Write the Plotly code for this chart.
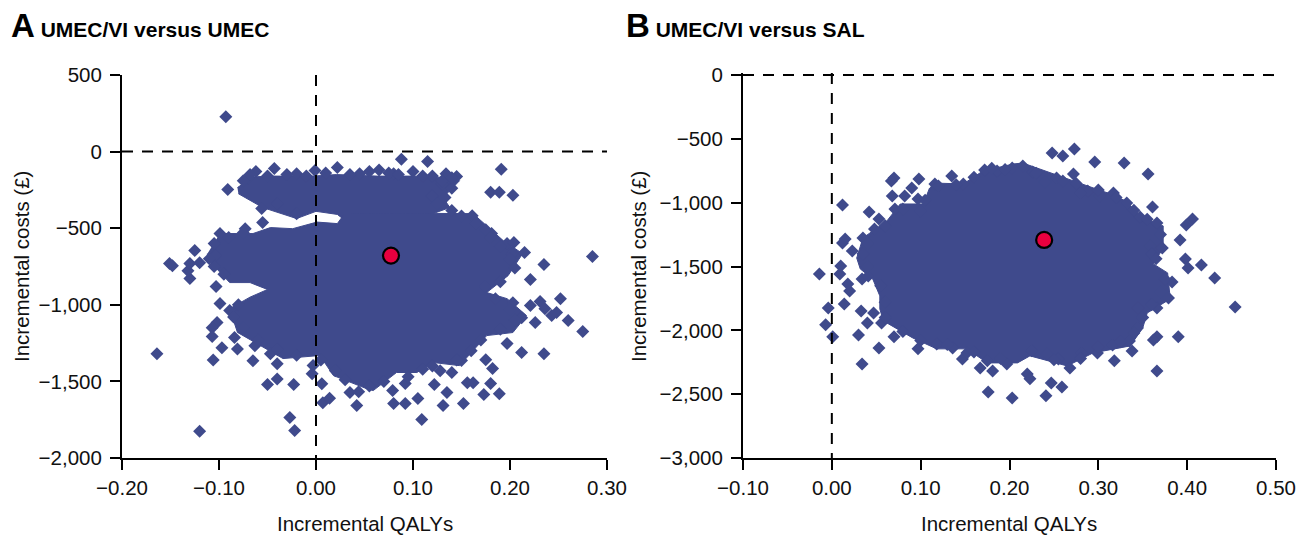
import plotly.graph_objects as go

# the page keeps its default 8px body margin, so the figure is 8px smaller and layout pixels are offset
OFF = 8
W, H = 1307 - OFF, 536 - OFF
NAVY = "#3f4a8c"
RED = "#e8003f"
FONT = "Liberation Sans, Arial, sans-serif"

def fx(p):
    return (p - OFF) / W

def fy(p):
    return 1 - (p - OFF) / H

# Panel A: dense cloud outlines
a_upper_x = [-.081,-.065,-.044,-.003,.021,.063,.099,.135,.148,.131,.138,.114,.03,.022,0,-.02,-.055,-.08]
a_upper_y = [-235,-165,-160,-160,-150,-160,-160,-170,-190,-300,-365,-420,-450,-410,-390,-437,-365,-275]
a_main_x = [-.099,-.065,-.047,-.024,.001,.022,.03,.162,.193,.213,.198,.176,.197,.217,.203,.176,.148,.121,.104,.083,.059,.052,.018,.004,-.034,-.058,-.081,-.089,-.068,-.05,-.068,-.089,-.112,-.112]
a_main_y = [-535,-535,-496,-503,-460,-470,-400,-405,-581,-666,-810,-920,-960,-1070,-1181,-1201,-1397,-1377,-1442,-1442,-1560,-1547,-1462,-1331,-1351,-1266,-1180,-1025,-950,-900,-855,-855,-700,-666]

# Panel A: individual simulations outside the dense cloud
a_x = [-.093,-.148,-.151,-.164,-.12,-.027,-.022,.285,.275,.236,.235,.235,.088,.115,.191,.18,.189,.203,
       -.106,-.097,-.081,-.063,-.065,-.047,-.04,-.05,-.04,-.023,.006,-.004,-.003,.007,.014,.035,.044,.042,
       -.103,-.099,-.089,-.102,-.107,-.107,-.084,-.13,-.132,
       .221,.231,.252,.248,.26,.243,.197,.212,.175,.182,.156,.162,.18,.173,.189,.152,.135,.131,.122,.109,.105,.092,.08,.079,.092,.128,.14,.15,.221,.226,.203,.212,
       .161,.181,.197,.204,.215,.202,.145,.134,.133,.14,
       -.062,-.043,-.02,-.001,.022,.045,-.091,-.073,-.055,-.099,-.125,-.12,-.13,-.104,-.056,-.04,-.02,
       .12,.1,.08,.065,.13,.14,.12,.125,.15,.165,.175,.18,.19,.2,.205,.19,.175,.185,.2,.205,.19,.17,.16,.145,.12,.11,.095,.07,.055,.03,.02,.005,-.02,-.04,-.06,-.075,-.085,-.08,-.095,-.105,-.11,-.105,-.09,-.075,
       -.07,-.05,-.03,-.01,.01,.035,.055,.075,.085,.11,.13,.14,-.075,-.068]
a_y = [228,-745,-730,-1320,-1825,-1735,-1820,-685,-1175,-1025,-737,-1320,-50,-65,-115,-265,-265,-285,
       -1360,-1280,-1288,-1267,-1365,-1320,-1385,-1520,-1484,-1520,-1515,-1450,-1397,-1640,-1610,-1573,-1567,-1658,
       -880,-992,-1038,-1116,-1149,-1207,-1214,-829,-777,
       -835,-979,-960,-1051,-1103,-1070,-1253,-1312,-1358,-1416,-1508,-1508,-1514,-1586,-1580,-1645,-1573,-1658,-1520,-1749,-1612,-1645,-1645,-1560,-1514,-1430,-1442,-1364,-1005,-1116,-986,-1084,
       -418,-535,-600,-594,-659,-666,-163,-144,-300,-385,
       -130,-111,-144,-124,-104,-144,-248,-503,-463,-535,-646,-725,-731,-679,-372,-340,-405,
       -160,-130,-145,-120,-210,-240,-290,-340,-420,-470,-510,-560,-620,-700,-760,-850,-880,-960,-1030,-1100,-1160,-1230,-1300,-1360,-1400,-1420,-1470,-1500,-1530,-1490,-1430,-1360,-1330,-1290,-1230,-1150,-1080,-1000,-800,-750,-700,-600,-560,-530,
       -170,-160,-150,-160,-140,-150,-130,-140,-150,-160,-190,-170,-190,-150]
a_mean_x = [0.0773]
a_mean_y = [-679]

# Panel B: dense cloud outline
b_core_x = [.114,.148,.170,.204,.215,.249,.288,.314,.331,.350,.373,.373,.362,.378,.381,.355,.350,.336,.294,.265,.223,.209,.175,.152,.118,.091,.058,.054,.054,.046,.032,.028,.035,.062,.077,.103,.110]
b_core_y = [-846,-853,-752,-697,-689,-775,-869,-932,-987,-1120,-1182,-1355,-1480,-1550,-1754,-1864,-1981,-2122,-2177,-2279,-2200,-2255,-2255,-2145,-2145,-2059,-1926,-1832,-1730,-1597,-1519,-1433,-1276,-1143,-1010,-1010,-885]

# Panel B: individual simulations outside the dense cloud
b_x = [.454,.431,.416,.406,.399,.398,.401,.390,.366,.296,.273,.26,.248,.272,.329,.356,.361,.392,
       .317,.332,.347,.366,.372,.358,.36,
       .366,.362,.318,.338,.335,.299,.281,.316,.344,.268,.255,.242,.247,.259,.241,.22,.223,.203,.383,.379,.366,.345,
       -.014,.009,-.004,.014,-.007,.001,.03,.053,.034,.07,.033,.047,.04,.056,.02,.018,.034,.041,.097,.118,.147,.152,.167,.181,.175,.197,.176,.136,
       .012,.07,.067,.098,.135,.116,.148,.068,.09,.082,.097,.071,.042,.053,.048,.015,.012,.023,.035,.01,.099,.172,.186,.203,
       .215,.226,.24,.253,.288,.28,.302,
       .12,.14,.16,.18,.195,.23,.26,.275,.3,.32,.34,.355,.37,.365,.375,.37,.36,.35,.34,.325,.3,.28,.25,.225,.19,.16,.13,.1,.08,.06,.06,.055,.04,.035,.04,.06,.08,.105]
b_y = [-1817,-1590,-1488,-1128,-1175,-1441,-1511,-2051,-2318,-681,-579,-634,-611,-775,-689,-775,-1034,-1292,
       -924,-1002,-1112,-1159,-1355,-1339,-1402,
       -2051,-2075,-2239,-2161,-2083,-2177,-2177,-2114,-1981,-2294,-2224,-2185,-2412,-2443,-2513,-2341,-2380,-2529,-1621,-1746,-1824,-1824,
       -1558,-1558,-1824,-1793,-1957,-2051,-2036,-2138,-2263,-2051,-1848,-1864,-1942,-1942,-1691,-1636,-1597,-1574,-2145,-2106,-2224,-2177,-2294,-2318,-2239,-2263,-2482,-2138,
       -1018,-806,-830,-814,-791,-853,-853,-947,-885,-947,-971,-1049,-1073,-1128,-1206,-1284,-1315,-1378,-1276,-1496,-1065,-744,-752,-728,
       -712,-760,-838,-806,-908,-924,-947,
       -870,-860,-800,-730,-740,-770,-830,-850,-900,-960,-1060,-1130,-1250,-1440,-1600,-1700,-1800,-1900,-2020,-2090,-2130,-2220,-2230,-2160,-2220,-2170,-2110,-2080,-2010,-1900,-1780,-1650,-1500,-1400,-1320,-1180,-1050,-980]
b_mean_x = [0.239]
b_mean_y = [-1292]

a_xticks = [-0.2,-0.1,0,0.1,0.2,0.3]
a_xlabels = ["−0.20","−0.10","0.00","0.10","0.20","0.30"]
a_yticks = [500,0,-500,-1000,-1500,-2000]
a_ylabels = ["500","0","−500","−1,000","−1,500","−2,000"]
b_xticks = [-0.1,0,0.1,0.2,0.3,0.4,0.5]
b_xlabels = ["−0.10","0.00","0.10","0.20","0.30","0.40","0.50"]
b_yticks = [0,-500,-1000,-1500,-2000,-2500,-3000]
b_ylabels = ["0","−500","−1,000","−1,500","−2,000","−2,500","−3,000"]
a_xrange = [-0.2, 0.3]
a_yrange = [-2000, 500]
b_xrange = [-0.1, 0.5]
b_yrange = [-3000, 16]

fig = go.Figure()

def panel(xa, ya, polys, px_, py_, mx, my, xr, yr):
    for (x, y) in polys:
        fig.add_trace(go.Scatter(x=x, y=y, mode="lines", fill="toself", fillcolor=NAVY,
                                 line=dict(color=NAVY, width=1), xaxis=xa, yaxis=ya,
                                 hoverinfo="skip", showlegend=False))
    fig.add_trace(go.Scatter(x=px_, y=py_, mode="markers", cliponaxis=False,
                             marker=dict(symbol="diamond", size=10, color=NAVY, line=dict(width=0)),
                             xaxis=xa, yaxis=ya, showlegend=False))
    dash = dict(color="black", width=2, dash="11px,9px")
    fig.add_trace(go.Scatter(x=xr, y=[0, 0], mode="lines", line=dash, cliponaxis=False,
                             xaxis=xa, yaxis=ya, showlegend=False, hoverinfo="skip"))
    fig.add_trace(go.Scatter(x=[0, 0], y=yr[::-1], mode="lines", line=dash, cliponaxis=False,
                             xaxis=xa, yaxis=ya, showlegend=False, hoverinfo="skip"))
    fig.add_trace(go.Scatter(x=mx, y=my, mode="markers", cliponaxis=False,
                             marker=dict(symbol="circle", size=16, color=RED, line=dict(color="black", width=2.2)),
                             xaxis=xa, yaxis=ya, showlegend=False))

panel("x", "y", [(a_upper_x, a_upper_y), (a_main_x, a_main_y)], a_x, a_y, a_mean_x, a_mean_y, a_xrange, a_yrange)
panel("x2", "y2", [(b_core_x, b_core_y)], b_x, b_y, b_mean_x, b_mean_y, b_xrange, b_yrange)

def xaxis(dom, rng, tv, tt, anchor):
    return dict(domain=dom, range=rng, tickvals=tv, ticktext=tt, anchor=anchor, showgrid=False, zeroline=False,
                showline=True, linecolor="black", linewidth=2, ticks="outside", ticklen=10, tickwidth=2,
                tickcolor="black", tickangle=0, automargin=False, ticklabelstandoff=0,
                tickfont=dict(family=FONT, size=20.5, color="#111"))

def yaxis(dom, rng, tv, tt, anchor):
    return dict(domain=dom, range=rng, tickvals=tv, ticktext=tt, anchor=anchor, showgrid=False,
                zeroline=False, showline=True, linecolor="black", linewidth=2, ticks="outside", ticklen=10,
                tickwidth=2, tickcolor="black", automargin=False, ticklabelstandoff=4,
                tickfont=dict(family=FONT, size=20.5, color="#111"))

titles = [(9, "A", "UMEC/VI versus UMEC"), (624, "B", "UMEC/VI versus SAL")]
annotations = []
for px0, letter, text in titles:
    annotations.append(dict(x=fx(px0), y=fy(25), xref="paper", yref="paper", xanchor="left", yanchor="middle",
                            showarrow=False,
                            text=f"<b><span style='font-size:33px'>{letter}</span> {text}</b>",
                            font=dict(family=FONT, size=21, color="black")))
for cx in (365, 1009):
    annotations.append(dict(x=fx(cx), y=fy(523), xref="paper", yref="paper", xanchor="center", yanchor="middle",
                            showarrow=False, text="Incremental QALYs", font=dict(family=FONT, size=20.5, color="#111")))
for cx in (21, 638):
    annotations.append(dict(x=fx(cx), y=fy(267), xref="paper", yref="paper", xanchor="center", yanchor="middle",
                            showarrow=False, textangle=-90, text="Incremental costs (£)", font=dict(family=FONT, size=20.5, color="#111")))

fig.update_layout(width=W, height=H, margin=dict(l=0, r=0, t=0, b=0), autosize=False,
                  paper_bgcolor="white", plot_bgcolor="white", showlegend=False,
                  xaxis=xaxis([fx(122), fx(607)], a_xrange, a_xticks, a_xlabels, "y"),
                  yaxis=yaxis([fy(458), fy(75)], a_yrange, a_yticks, a_ylabels, "x"),
                  xaxis2=xaxis([fx(743), fx(1276)], b_xrange, b_xticks, b_xlabels, "y2"),
                  yaxis2=yaxis([fy(458), fy(73)], b_yrange, b_yticks, b_ylabels, "x2"),
                  annotations=annotations)
fig.write_html("out.html", config=dict(displayModeBar=False))
